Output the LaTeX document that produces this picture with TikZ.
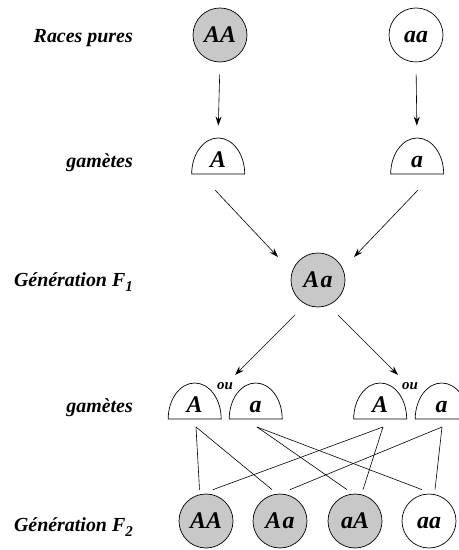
\documentclass[tikz,border=0pt]{standalone}
\usepackage{fontspec}
\setmainfont{Liberation Serif}
\usetikzlibrary{arrows.meta,calc}
\definecolor{cgray}{RGB}{200,200,200}
\newcommand{\lowsub}[1]{\raisebox{-4.5bp}{\fontsize{15}{15}\selectfont #1}}
\begin{document}
\begin{tikzpicture}[x=1bp,y=1bp,
  geno/.style={circle,draw,line width=0.7bp,minimum size=54bp,inner sep=0pt,
    text height=15bp,text depth=0pt,font=\fontsize{24}{24}\selectfont\bfseries\itshape},
  dom/.style={fill=cgray},
  gam/.style={minimum width=53bp,minimum height=36bp,inner sep=0pt,anchor=south},
  glet/.style={anchor=base,inner sep=0pt,font=\fontsize{24}{24}\selectfont\bfseries\itshape},
  lab/.style={anchor=base east,inner sep=0pt,font=\fontsize{20}{20}\selectfont\bfseries\itshape},
  oustyle/.style={inner sep=0pt,font=\fontsize{15}{15}\selectfont\bfseries\itshape},
  arr/.style={-{Stealth[length=9bp,width=6bp]},line width=0.6bp},
  cross/.style={line width=0.6bp},
  domeline/.style={line width=0.7bp}]
\useasboundingbox (0,0) rectangle (459,550);
\clip (0,0) rectangle (459,550);
% labels
\node[lab] (l1) at (133,507) {Races pures};
\node[lab] (l2) at (133,382) {gamètes};
\node[lab] (l3) at (133,263) {Génération F\lowsub{1}};
\node[lab] (l4) at (133,137) {gamètes};
\node[lab] (l5) at (133,18) {Génération F\lowsub{2}};
% parents
\node[geno,dom] (P1) at (220,515) {AA};
\node[geno] (P2) at (416,515) {aa};
% gametes row 1
\node[gam] (g1) at (218,376) {};
\node[gam] (g2) at (417,376) {};
% F1
\node[geno,dom] (F1) at (318,270) {A\kern1.5bp a};
% gametes row 2
\node[gam] (h1) at (194.5,131) {};
\node[gam] (h2) at (255.5,131) {};
\node[gam] (h3) at (380,131) {};
\node[gam] (h4) at (441.5,131) {};
% F2
\node[geno,dom] (c1) at (206,29) {AA};
\node[geno,dom] (c2) at (280,29) {A\kern1.5bp a};
\node[geno,dom] (c3) at (355,29) {aA};
\node[geno] (c4) at (429,29) {aa};
% domes
\foreach \g/\t in {g1/A,g2/a,h1/A,h2/a,h3/A,h4/a}{
  \draw[domeline] (\g.south west) -- (\g.south east)
    arc[start angle=0,end angle=180,x radius=26.5bp,y radius=36bp] -- cycle;
  \node[glet] at ([yshift=6.5bp]\g.south) {\t};
}
\node[oustyle] (ou1) at (225,164) {ou};
\node[oustyle] (ou2) at (410,164) {ou};
% arrows
\draw[arr,shorten <=12bp,shorten >=12bp] (P1.south) -- (g1.north);
\draw[arr,shorten <=12bp,shorten >=12bp] (P2.south) -- (g2.north);
\draw[arr] ($(g1.south)+(-3,-16)$) -- ($(F1.center)+(-40,23)$);
\draw[arr] ($(g2.south)+(1,-16)$) -- ($(F1.center)+(36,23)$);
\draw[arr] ($(F1.center)+(-23,-35)$) -- ($(F1.center)+(-83,-95)$);
\draw[arr] ($(F1.center)+(20,-35)$) -- ($(F1.center)+(80,-95)$);
% crosses
\draw[cross] ($(h1.south)+(1.5,-8)$) -- ($(c1.north)+(-6.5,4)$);
\draw[cross] ($(h1.south)+(1.5,-8)$) -- ($(c2.north)+(-8,4)$);
\draw[cross] ($(h2.south)+(1.5,-8)$) -- ($(c3.north)+(-8,4)$);
\draw[cross] ($(h2.south)+(1.5,-8)$) -- ($(c4.north)+(-7,4)$);
\draw[cross] ($(h3.south)+(3,-8)$) -- ($(c1.north)+(7,4)$);
\draw[cross] ($(h3.south)+(3,-8)$) -- ($(c3.north)+(8,4)$);
\draw[cross] ($(h4.south)+(0.5,-8)$) -- ($(c2.north)+(10,4)$);
\draw[cross] ($(h4.south)+(0.5,-8)$) -- ($(c4.north)+(6,4)$);
\end{tikzpicture}
\end{document}
